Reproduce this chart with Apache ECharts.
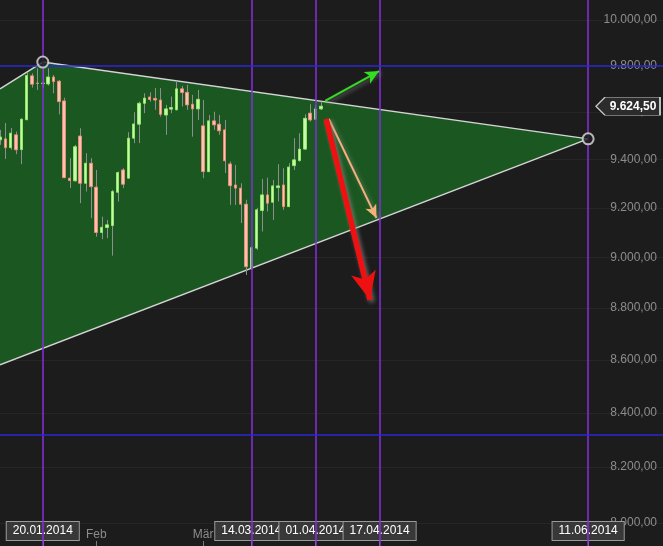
<!DOCTYPE html>
<html><head><meta charset="utf-8">
<script src="https://cdn.jsdelivr.net/npm/echarts@6/dist/echarts.min.js"></script>
<style>html,body{margin:0;padding:0;background:#1c1c1c;}#c{width:663px;height:546px;}</style>
</head><body><div id="c"></div>
<script>
// ---------- data ----------
const START_DATE = '2014-01-08';
const N_DAYS = 125;                       // trading days on the axis
const Y_RANGE = [7918, 10089];            // visible price range (log scale)
const Y_TICKS = [8000, 8200, 8400, 8600, 8800, 9000, 9200, 9400, 9600, 9800, 10000];
const MONTH_LABELS = {'02': 'Feb', '03': 'Mär'};
const MARKER_DATES = ['20.01.2014', '14.03.2014', '01.04.2014', '17.04.2014', '11.06.2014'];
const H_LINES = [9800, 8318];
const LAST_PRICE = 9624.5;
// [open, close, low, high], one per trading day from START_DATE
const candles = [
  [9482, 9494, 9461, 9524], [9486, 9449, 9402, 9553], [9449, 9510, 9440, 9532], [9503, 9440, 9422, 9517],
  [9441, 9569, 9380, 9573], [9567, 9756, 9565, 9771], [9755, 9719, 9704, 9766], [9724, 9722, 9694, 9788],
  [9722, 9724, 9703, 9815], [9720, 9750, 9713, 9788], [9750, 9730, 9680, 9759], [9732, 9644, 9590, 9737],
  [9647, 9324, 9322, 9661], [9322, 9312, 9281, 9405], [9311, 9453, 9308, 9461], [9498, 9301, 9219, 9531],
  [9301, 9384, 9267, 9426], [9384, 9287, 9158, 9405], [9285, 9100, 9083, 9356], [9100, 9121, 9073, 9164],
  [9120, 9131, 9077, 9151], [9128, 9267, 9007, 9274], [9264, 9345, 9226, 9349], [9356, 9297, 9281, 9363],
  [9322, 9489, 9319, 9514], [9489, 9549, 9468, 9599], [9548, 9637, 9468, 9644], [9637, 9659, 9595, 9680],
  [9664, 9653, 9644, 9684], [9658, 9651, 9609, 9702], [9651, 9590, 9580, 9702], [9587, 9613, 9503, 9630],
  [9612, 9619, 9595, 9666], [9609, 9699, 9607, 9733], [9699, 9683, 9623, 9712], [9684, 9630, 9609, 9716],
  [9633, 9613, 9495, 9673], [9613, 9654, 9566, 9694], [9541, 9349, 9322, 9651], [9349, 9562, 9347, 9587],
  [9562, 9545, 9524, 9601], [9548, 9520, 9503, 9587], [9524, 9394, 9343, 9566], [9381, 9291, 9212, 9391],
  [9294, 9281, 9212, 9377], [9281, 9215, 9138, 9301], [9215, 8963, 8930, 9233], [8957, 9039, 8950, 9046],
  [9037, 9192, 9030, 9200], [9189, 9253, 9104, 9319], [9253, 9219, 9185, 9324], [9223, 9290, 9151, 9315],
  [9283, 9290, 9226, 9380], [9294, 9205, 9192, 9363], [9205, 9368, 9204, 9384], [9374, 9398, 9356, 9489],
  [9395, 9443, 9391, 9510], [9443, 9573, 9440, 9590], [9595, 9566, 9559, 9633], [9569, 9613, 9566, 9630],
  [9613, 9624.5, 9609, 9644]
];
// triangle edges [date, price]
const upperEdge = [['08.01.2014', 9699], ['20.01.2014', 9815], ['11.06.2014', 9486]];
const lowerEdge = [['08.01.2014', 8581], ['11.06.2014', 9486]];
const pivots = [['20.01.2014', 9815], ['11.06.2014', 9486]];
// arrows [[tradingDayIndex, price], [tradingDayIndex, price]]
const arrowGreen  = [[60.8, 9647], [70.9, 9776]];
const arrowOrange = [[61.5, 9570], [70.4, 9159]];
const arrowRed    = [[61.0, 9570], [69.2, 8832]];

// ---------- helpers ----------
const dates = [];
(function () {
  const d = new Date(START_DATE + 'T12:00:00Z');
  while (dates.length < N_DAYS) {
    const wd = d.getUTCDay();
    if (wd !== 0 && wd !== 6) {
      const dd = String(d.getUTCDate()).padStart(2, '0');
      const mm = String(d.getUTCMonth() + 1).padStart(2, '0');
      dates.push(dd + '.' + mm + '.' + d.getUTCFullYear());
    }
    d.setUTCDate(d.getUTCDate() + 1);
  }
})();
const idx = s => dates.indexOf(s);
const L = Math.log;
function fmt(n) {
  const p = n.toFixed(2).split('.');
  return p[0].replace(/\B(?=(\d{3})+(?!\d))/g, '.') + ',' + p[1];
}
const isMonthStart = i => i > 0 && dates[i].slice(3, 5) !== dates[i - 1].slice(3, 5) && !!MONTH_LABELS[dates[i].slice(3, 5)];
const isMarker = (i) => MARKER_DATES.indexOf(dates[i]) >= 0;
const FONT = 'Liberation Sans, Arial, sans-serif';

const wickData = candles.map((c, i) => [i, L(c[2]), L(c[3])]);
const bodyData = candles.map(c => [L(c[0]), L(c[1]), L(Math.min(c[0], c[1])), L(Math.max(c[0], c[1]))]);
const polyVerts = upperEdge.concat(lowerEdge.slice().reverse().slice(1))
  .map(p => [idx(p[0]), L(p[1])]);
const toXY = arr => arr.map(p => [idx(p[0]), L(p[1])]);
const arrowItem = (a, color, width, size) => [
  {coord: [a[0][0], L(a[0][1])], symbol: 'none'},
  {coord: [a[1][0], L(a[1][1])], symbol: 'arrow', symbolSize: size,
   lineStyle: {color: color, width: width, type: 'solid', shadowColor: 'rgba(140,140,140,0.7)', shadowBlur: 4, shadowOffsetX: 2, shadowOffsetY: 2},
   itemStyle: {color: color}}
];

const chart = echarts.init(document.getElementById('c'), null, {renderer: 'canvas'});
chart.setOption({
  backgroundColor: '#1c1c1c',
  animation: false,
  textStyle: {fontFamily: FONT},
  grid: {left: 0, right: 0, top: 0, bottom: 0},
  xAxis: [
    {
      type: 'category', data: dates, boundaryGap: false,
      axisLine: {show: false},
      axisTick: {show: true, inside: true, length: 5, interval: isMonthStart, lineStyle: {color: '#7a7a7a'}},
      axisLabel: {inside: true, interval: isMonthStart, margin: 5, color: '#8c8c8c', fontSize: 12, fontFamily: FONT,
                  formatter: v => MONTH_LABELS[v.slice(3, 5)] || ''},
      splitLine: {show: false}
    },
    {
      type: 'category', data: dates, boundaryGap: false, position: 'bottom',
      axisLine: {show: false},
      axisTick: {show: true, inside: true, length: 6, interval: isMarker, lineStyle: {color: '#a0a0a0'}},
      axisLabel: {inside: true, interval: isMarker, margin: 6, color: '#ffffff', fontSize: 12, fontFamily: FONT,
                  backgroundColor: '#383838', borderColor: '#9a9a9a', borderWidth: 1, padding: [3, 6, 3, 6]},
      splitLine: {show: false}
    },
    {type: 'value', min: 0, max: N_DAYS - 1, show: false}
  ],
  yAxis: {
    type: 'value', position: 'right', min: L(Y_RANGE[0]), max: L(Y_RANGE[1]),
    axisLine: {show: false},
    axisTick: {show: true, inside: true, length: 5, customValues: Y_TICKS.map(L), lineStyle: {color: '#8c8c8c'}},
    axisLabel: {inside: true, margin: 6, customValues: Y_TICKS.map(L), color: '#8c8c8c', fontSize: 12, fontFamily: FONT,
                formatter: v => fmt(Math.round(Math.exp(v)))},
    splitLine: {show: true, lineStyle: {color: '#262626', width: 1}}
  },
  series: [
    {
      type: 'custom', xAxisIndex: 2, silent: true, z: 1,
      data: [[0, L(9000)]],
      renderItem: (params, api) => ({
        type: 'polygon',
        shape: {points: polyVerts.map(p => api.coord(p))},
        style: {fill: '#1b5720', stroke: 'none'}
      })
    },
    {type: 'line', xAxisIndex: 2, data: toXY(upperEdge), symbol: 'none', silent: true, z: 2,
     lineStyle: {color: '#d4d4d4', width: 1.5}},
    {type: 'line', xAxisIndex: 2, data: toXY(lowerEdge), symbol: 'none', silent: true, z: 2,
     lineStyle: {color: '#d4d4d4', width: 1.5}},
    {
      type: 'custom', xAxisIndex: 2, silent: true, z: 3, data: wickData,
      encode: {x: 0, y: [1, 2]},
      renderItem: (params, api) => {
        const a = api.coord([api.value(0), api.value(1)]);
        const b = api.coord([api.value(0), api.value(2)]);
        const x = Math.round(a[0]) + 0.5;
        return {type: 'line', shape: {x1: x, y1: a[1], x2: x, y2: b[1]}, style: {stroke: '#8e8e8e', lineWidth: 1}};
      }
    },
    {type: 'candlestick', xAxisIndex: 0, data: bodyData, barWidth: 3, silent: true, z: 4,
     itemStyle: {color: '#c9f7ae', color0: '#f8c6b6', borderColor: '#8ee864', borderColor0: '#ec8a74', borderWidth: 1}},
    {
      type: 'line', xAxisIndex: 2, data: [], silent: true, z: 5,
      markLine: {
        silent: true, symbol: ['none', 'none'], label: {show: false}, animation: false, precision: 10,
        data: [].concat(
          MARKER_DATES.map(s => ({xAxis: idx(s), lineStyle: {color: '#8a2be2', width: 1.5, type: 'solid'}})),
          H_LINES.map(v => ({yAxis: L(v), lineStyle: {color: '#2828d0', width: 1.5, type: 'solid'}}))
        )
      }
    },
    {
      type: 'scatter', xAxisIndex: 2, data: toXY(pivots), symbol: 'circle', symbolSize: 11, silent: true, z: 6,
      itemStyle: {color: '#1e1e1e', borderColor: '#dddddd', borderWidth: 2}
    },
    {
      type: 'line', xAxisIndex: 2, data: [], silent: true, z: 7,
      markLine: {
        silent: true, symbol: ['none', 'arrow'], label: {show: false}, animation: false, precision: 10,
        data: [
          arrowItem(arrowGreen, '#33dd22', 2, [10, 14]),
          arrowItem(arrowOrange, '#f2b27a', 2, [9, 13]),
          arrowItem(arrowRed, '#ee1111', 5.5, [19, 28])
        ]
      },
      markPoint: {
        silent: true, animation: false,
        data: [{
          coord: [N_DAYS - 1, L(LAST_PRICE)],
          symbol: 'path://M0,9L9,0L64,0L64,18L9,18Z', symbolSize: [64, 18], symbolOffset: [-35, 0],
          itemStyle: {color: '#2c2c2c', borderColor: '#c8c8c8', borderWidth: 1},
          label: {show: true, position: 'inside', offset: [5, 0], formatter: fmt(LAST_PRICE),
                  color: '#ffffff', fontWeight: 'bold', fontSize: 12, fontFamily: FONT}
        }]
      }
    }
  ]
});
</script>
</body></html>
